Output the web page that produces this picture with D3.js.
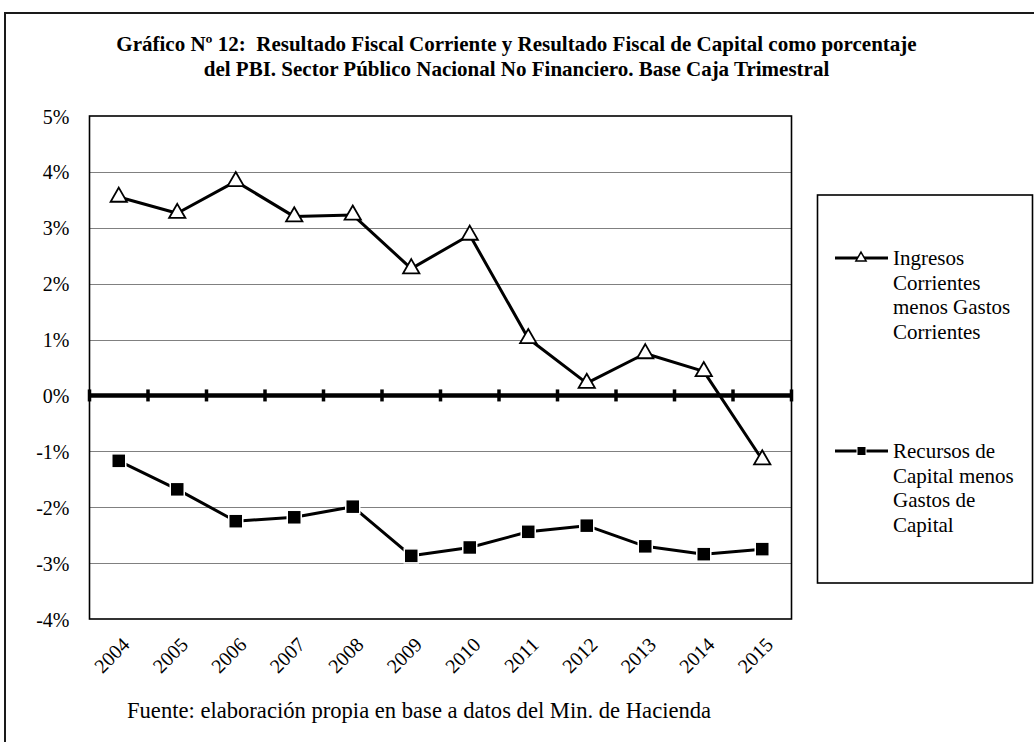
<!DOCTYPE html>
<html>
<head>
<meta charset="utf-8">
<script src="https://cdn.jsdelivr.net/npm/d3@7"></script>
<style>
  html, body { margin: 0; padding: 0; background: #fff; }
  svg { display: block; }
  text { font-family: "Liberation Serif", "Times New Roman", serif; fill: #000; white-space: pre; }
</style>
</head>
<body>
<svg id="chart" width="1034" height="742"></svg>
<script>
// Years on the category axis
const years = ["2004", "2005", "2006", "2007", "2008", "2009", "2010", "2011", "2012", "2013", "2014", "2015"];
// Ingresos Corrientes menos Gastos Corrientes (% del PBI)
const corriente = [3.55, 3.26, 3.83, 3.20, 3.23, 2.27, 2.87, 1.02, 0.22, 0.75, 0.43, -1.15];
// Recursos de Capital menos Gastos de Capital (% del PBI)
const capital = [-1.17, -1.68, -2.25, -2.18, -1.99, -2.87, -2.72, -2.44, -2.33, -2.70, -2.84, -2.75];
// Value axis ticks
const yTicks = [5, 4, 3, 2, 1, 0, -1, -2, -3, -4];
const titleLines = [
  "Gráfico Nº 12:  Resultado Fiscal Corriente y Resultado Fiscal de Capital como porcentaje",
  "del PBI. Sector Público Nacional No Financiero. Base Caja Trimestral"
];
const legendLabels = [
  ["Ingresos", "Corrientes", "menos Gastos", "Corrientes"],
  ["Recursos de", "Capital menos", "Gastos de", "Capital"]
];
const sourceText = "Fuente: elaboración propia en base a datos del Min. de Hacienda";

const svg = d3.select("#chart");

// Outer frame
svg.append("rect")
  .attr("x", 5).attr("y", 13).attr("width", 1060).attr("height", 760)
  .attr("fill", "#fff").attr("stroke", "#1a1a1a").attr("stroke-width", 2);

// Title
svg.append("g").selectAll("text").data(titleLines).join("text")
  .attr("x", 516.5).attr("y", (d, i) => 51 + i * 25)
  .attr("text-anchor", "middle")
  .attr("font-size", 21).attr("font-weight", "bold")
  .text(d => d);

const plot = { left: 89.5, top: 116, right: 791.5, bottom: 619 };

const x = d3.scaleBand().domain(years).range([plot.left, plot.right]).paddingInner(0).paddingOuter(0);
const y = d3.scaleLinear().domain([-4, 5]).range([plot.bottom, plot.top]);

// Horizontal gridlines
svg.append("g").selectAll("line").data(yTicks.filter(t => t !== 0 && t !== 5 && t !== -4)).join("line")
  .attr("x1", plot.left).attr("x2", plot.right)
  .attr("y1", d => Math.round(y(d)) + 0.5).attr("y2", d => Math.round(y(d)) + 0.5)
  .attr("stroke", "#808080").attr("stroke-width", 1);

// Plot area border
svg.append("rect")
  .attr("x", plot.left).attr("y", plot.top)
  .attr("width", plot.right - plot.left).attr("height", plot.bottom - plot.top)
  .attr("fill", "none").attr("stroke", "#000").attr("stroke-width", 1.6);

// Value axis labels
const yAxis = d3.axisLeft(y).tickValues(yTicks).tickSize(0).tickPadding(20)
  .tickFormat(d => d + "%");
const yg = svg.append("g").attr("transform", `translate(${plot.left},0)`).call(yAxis);
yg.select(".domain").remove();
yg.selectAll("text").attr("font-size", 20).attr("dy", "0.35em");

// Category axis drawn along the zero line
const zeroY = y(0);
const boundaries = years.map(d => x(d)).concat([x(years[years.length - 1]) + x.bandwidth()]);
svg.append("line")
  .attr("x1", plot.left).attr("x2", plot.right)
  .attr("y1", zeroY).attr("y2", zeroY)
  .attr("stroke", "#000").attr("stroke-width", 4.5);
svg.append("g").selectAll("line").data(boundaries).join("line")
  .attr("x1", d => d).attr("x2", d => d)
  .attr("y1", zeroY - 6).attr("y2", zeroY + 6)
  .attr("stroke", "#000").attr("stroke-width", 3.5);

// Category labels, rotated, below the plot
svg.append("g").selectAll("text").data(years).join("text")
  .attr("transform", d => `translate(${x(d) + x.bandwidth() / 2 + 7},${plot.bottom + 22}) rotate(-45)`)
  .attr("text-anchor", "end")
  .attr("dy", "0.35em")
  .attr("font-size", 20)
  .text(d => d);

const cx = d => x(d) + x.bandwidth() / 2;
const line = d3.line().x(d => cx(d.year)).y(d => y(d.v));
const s1 = years.map((yr, i) => ({ year: yr, v: corriente[i] }));
const s2 = years.map((yr, i) => ({ year: yr, v: capital[i] }));

const tri = d3.symbol().type(d3.symbolTriangle);

// Current result series
svg.append("path").datum(s1).attr("d", line)
  .attr("fill", "none").attr("stroke", "#000").attr("stroke-width", 3).attr("stroke-linejoin", "round");
svg.append("g").selectAll("path").data(s1).join("path")
  .attr("transform", d => `translate(${cx(d.year)},${y(d.v)})`)
  .attr("d", tri.size(115)())
  .attr("fill", "#fff").attr("stroke", "#000").attr("stroke-width", 1.8);

// Capital result series
svg.append("path").datum(s2).attr("d", line)
  .attr("fill", "none").attr("stroke", "#000").attr("stroke-width", 3).attr("stroke-linejoin", "round");
svg.append("g").selectAll("rect").data(s2).join("rect")
  .attr("x", d => cx(d.year) - 7).attr("y", d => y(d.v) - 7)
  .attr("width", 14).attr("height", 14)
  .attr("fill", "#000").attr("stroke", "#fff").attr("stroke-width", 1.5);

// Legend
const lg = svg.append("g");
lg.append("rect")
  .attr("x", 817.5).attr("y", 195).attr("width", 215).attr("height", 388)
  .attr("fill", "#fff").attr("stroke", "#000").attr("stroke-width", 1.6);

const entryY = [258, 451];
entryY.forEach((ey, k) => {
  lg.append("line").attr("x1", 835).attr("x2", 888).attr("y1", ey).attr("y2", ey)
    .attr("stroke", "#000").attr("stroke-width", 3);
  if (k === 0) {
    lg.append("path").attr("transform", `translate(861,${ey})`)
      .attr("d", d3.symbol().type(d3.symbolTriangle).size(45)())
      .attr("fill", "#fff").attr("stroke", "#000").attr("stroke-width", 1.5);
  } else {
    lg.append("rect").attr("x", 857).attr("y", ey - 4.5).attr("width", 9).attr("height", 9)
      .attr("fill", "#000").attr("stroke", "#fff").attr("stroke-width", 1);
  }
  lg.append("g").selectAll("text").data(legendLabels[k]).join("text")
    .attr("x", 893).attr("y", (d, i) => ey + 7 + i * 24.5)
    .attr("font-size", 21)
    .text(d => d);
});

// Source note
svg.append("text")
  .attr("x", 127).attr("y", 718)
  .attr("font-size", 22.6)
  .text(sourceText);
</script>
</body>
</html>
